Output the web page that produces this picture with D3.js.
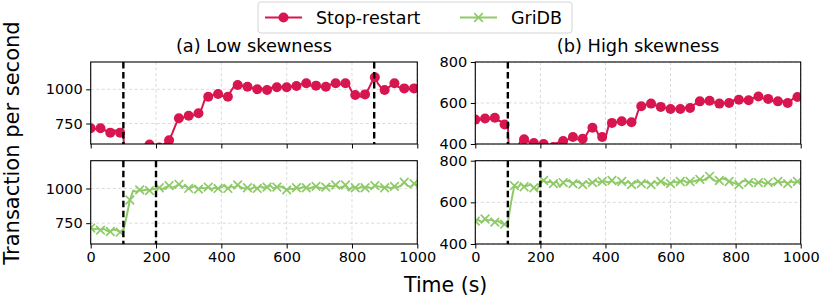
<!DOCTYPE html>
<html>
<head>
<meta charset="utf-8">
<script src="https://cdn.jsdelivr.net/npm/d3@7"></script>
<style>
  body { margin: 0; background: #fff; }
  svg { font-family: "DejaVu Sans", sans-serif; }
</style>
</head>
<body>
<div class="chart"></div>
<script>
const width = 830;
const height = 297;

// time axis, one sample every 10 s
const times = d3.range(0, 1001, 10);

const seriesNames = ["Stop-restart", "GriDB"];
const seriesColors = ["#d7154f", "#8fca68"];

// (a) low skewness, stop-restart
const lowStop = [715, 710, 712, 715, 705, 690, 683, 700, 695, 683,
  680, 150, 350, 450, 520, 560, 580, 600, 596, 585,
  570, 575, 590, 610, 628, 680, 740, 788, 790, 800,
  807, 805, 815, 825, 860, 930, 946, 955, 960, 966,
  955, 945, 946, 990, 1025, 1032, 1030, 1020, 1019, 1015,
  1005, 1000, 1010, 1000, 995, 1010, 1015, 1015, 1020, 1010,
  1015, 1025, 1020, 1024, 1035, 1040, 1044, 1030, 1025, 1027,
  1020, 1015, 1019, 1030, 1040, 1044, 1035, 1040, 1044, 1030,
  980, 959, 950, 945, 963, 1000, 1050, 1088, 1040, 1010,
  995, 1010, 1030, 1044, 1020, 1010, 1007, 1010, 1000, 1007, 1005];

// (a) low skewness, GriDB
const lowGri = [715, 705, 712, 700, 710, 695, 690, 705, 700, 685,
  695, 800, 917, 985, 975, 990, 985, 992, 985, 995,
  1000, 1005, 995, 1010, 1020, 1005, 1015, 1030, 1010, 1020,
  1000, 1010, 1015, 995, 1005, 1000, 1010, 995, 1005, 1000,
  1010, 1020, 1000, 1015, 1005, 1025, 1010, 1000, 1005, 995,
  1010, 1000, 1015, 1005, 1010, 1020, 1000, 1010, 1015, 1005,
  990, 1000, 995, 1005, 1000, 1010, 1005, 1000, 1010, 1015,
  1005, 1000, 1010, 1020, 1015, 1025, 1005, 1010, 1025, 985,
  1010, 1005, 1000, 1015, 1005, 1010, 1000, 1020, 1015, 1010,
  1005, 1010, 1000, 1015, 1010, 1020, 1045, 1020, 1010, 1035, 1025];

// (b) high skewness, stop-restart
const highStop = [519, 515, 522, 524, 520, 525, 528, 515, 510, 495,
  490, 100, 250, 380, 420, 423, 415, 405, 405, 400,
  398, 400, 370, 360, 385, 405, 410, 415, 420, 425,
  434, 425, 420, 426, 440, 470, 479, 475, 440, 434,
  430, 490, 503, 505, 510, 511, 508, 505, 506, 510,
  560, 584, 590, 595, 597, 590, 585, 581, 578, 575,
  571, 575, 570, 571, 575, 578, 576, 590, 600, 608,
  605, 610, 611, 605, 600, 597, 602, 598, 600, 612,
  615, 616, 610, 615, 613, 620, 628, 632, 625, 620,
  620, 610, 612, 608, 605, 610, 600, 612, 625, 629, 622];

// (b) high skewness, GriDB
const highGri = [510, 515, 505, 520, 512, 518, 505, 510, 500, 495,
  505, 600, 680, 670, 690, 675, 680, 685, 670, 660,
  700, 705, 695, 700, 690, 700, 675, 695, 705, 700,
  690, 700, 695, 685, 700, 690, 695, 705, 695, 700,
  700, 695, 705, 690, 695, 700, 690, 700, 685, 695,
  700, 690, 700, 695, 685, 700, 690, 700, 695, 685,
  690, 700, 695, 700, 705, 695, 700, 700, 705, 710,
  705, 715, 725, 710, 700, 705, 715, 710, 700, 695,
  690, 685, 700, 705, 695, 700, 690, 695, 700, 690,
  695, 685, 690, 700, 695, 700, 690, 700, 695, 700, 695];

const xTicks = [0, 200, 400, 600, 800, 1000];
const lowTicks = [750, 1000];
const highTicks = [400, 600, 800];
const lowDomain = [600, 1200];
const highDomain = [400, 800];

const titles = ["(a) Low skewness", "(b) High skewness"];
const xLabel = "Time (s)";
const yLabel = "Transaction per second";

// event markers (dashed verticals)
const lowStopEvents = [100, 868];
const highStopEvents = [100];
const griEvents = [100, 200];

const cols = [[90.7, 417.3], [475.3, 800.7]];
const rows = [[62, 144], [160.7, 244]];

const panels = [
  {col: 0, row: 0, values: lowStop, series: 0, domain: lowDomain, ticks: lowTicks, events: lowStopEvents},
  {col: 1, row: 0, values: highStop, series: 0, domain: highDomain, ticks: highTicks, events: highStopEvents},
  {col: 0, row: 1, values: lowGri, series: 1, domain: lowDomain, ticks: lowTicks, events: griEvents},
  {col: 1, row: 1, values: highGri, series: 1, domain: highDomain, ticks: highTicks, events: griEvents}
];

const svg = d3.select(".chart").append("svg")
  .attr("width", width)
  .attr("height", height);

const defs = svg.append("defs");

function drawMarker(sel, kind, color) {
  if (kind === 0) {
    sel.append("circle").attr("r", 5).attr("fill", color);
  } else {
    sel.append("path").attr("d", "M-4.3,-4.3L4.3,4.3M-4.3,4.3L4.3,-4.3")
      .attr("stroke", color).attr("stroke-width", 1.7).attr("fill", "none");
  }
}

panels.forEach((p, i) => {
  const [x0, x1] = cols[p.col];
  const [y0, y1] = rows[p.row];
  const x = d3.scaleLinear().domain([0, 1000]).range([x0, x1]);
  const y = d3.scaleLinear().domain(p.domain).range([y1, y0]);
  const color = seriesColors[p.series];

  const g = svg.append("g");

  // grid
  g.append("g").selectAll("line").data(xTicks).join("line")
    .attr("x1", d => x(d)).attr("x2", d => x(d))
    .attr("y1", y0).attr("y2", y1)
    .attr("stroke", "#d0d0d0").attr("stroke-width", 0.8).attr("stroke-dasharray", "3,2.5");
  g.append("g").selectAll("line").data(p.ticks).join("line")
    .attr("x1", x0).attr("x2", x1)
    .attr("y1", d => y(d)).attr("y2", d => y(d))
    .attr("stroke", "#d0d0d0").attr("stroke-width", 0.8).attr("stroke-dasharray", "3,2.5");

  defs.append("clipPath").attr("id", "clip" + i)
    .append("rect").attr("x", x0).attr("y", y0).attr("width", x1 - x0).attr("height", y1 - y0);

  const plot = g.append("g").attr("clip-path", `url(#clip${i})`);

  const line = d3.line().x((d, j) => x(times[j])).y(d => y(d));
  plot.append("path").datum(p.values)
    .attr("d", line)
    .attr("fill", "none")
    .attr("stroke", color)
    .attr("stroke-width", 2)
    .attr("stroke-linejoin", "round");

  p.values.forEach((v, j) => {
    if (j % 3 !== 0) return;
    const m = plot.append("g").attr("transform", `translate(${x(times[j])},${y(v)})`);
    drawMarker(m, p.series, color);
  });

  // event lines
  plot.selectAll(".ev").data(p.events).join("line")
    .attr("x1", d => x(d)).attr("x2", d => x(d))
    .attr("y1", y0).attr("y2", y1)
    .attr("stroke", "#000").attr("stroke-width", 2.4).attr("stroke-dasharray", "6.5,3.5");

  // axes
  const xAxis = d3.axisBottom(x).tickValues(xTicks).tickSize(4.5).tickPadding(3.5)
    .tickFormat(p.row === 1 ? d3.format("d") : "");
  const xg = g.append("g").attr("transform", `translate(0,${y1})`).call(xAxis);
  const yAxis = d3.axisLeft(y).tickValues(p.ticks).tickSize(4.5).tickPadding(3.5).tickFormat(d3.format("d"));
  const yg = g.append("g").attr("transform", `translate(${x0},0)`).call(yAxis);
  [xg, yg].forEach(a => {
    a.select(".domain").remove();
    a.selectAll("line").attr("stroke", "#000").attr("stroke-width", 1);
    a.selectAll("text").attr("fill", "#000").style("font-size", "14.5px").style("font-family", "DejaVu Sans");
  });

  g.append("rect")
    .attr("x", x0).attr("y", y0).attr("width", x1 - x0).attr("height", y1 - y0)
    .attr("fill", "none").attr("stroke", "#000").attr("stroke-width", 1.1);

  if (p.row === 0) {
    svg.append("text")
      .attr("x", (x0 + x1) / 2).attr("y", 52)
      .attr("text-anchor", "middle")
      .style("font-size", "17.8px")
      .text(titles[p.col]);
  }
});

// axis labels
svg.append("text")
  .attr("x", (cols[0][0] + cols[1][1]) / 2).attr("y", 292)
  .attr("text-anchor", "middle")
  .style("font-size", "20.5px")
  .text(xLabel);

svg.append("text")
  .attr("transform", "translate(19,143) rotate(-90)")
  .attr("text-anchor", "middle")
  .style("font-size", "21px")
  .text(yLabel);

// legend
const legend = svg.append("g");
legend.append("rect")
  .attr("x", 258).attr("y", 2).attr("width", 314).attr("height", 31)
  .attr("rx", 3).attr("fill", "#fff")
  .attr("stroke", "#d4d4d4").attr("stroke-width", 1);

const legendX = [265, 460];
seriesNames.forEach((name, i) => {
  const lx = legendX[i];
  legend.append("line")
    .attr("x1", lx).attr("x2", lx + 37).attr("y1", 17.5).attr("y2", 17.5)
    .attr("stroke", seriesColors[i]).attr("stroke-width", 1.8);
  const m = legend.append("g").attr("transform", `translate(${lx + 18.5},17.5)`);
  drawMarker(m, i, seriesColors[i]);
  legend.append("text")
    .attr("x", lx + 51).attr("y", 23.5)
    .style("font-size", "17.5px")
    .text(name);
});
</script>
</body>
</html>
